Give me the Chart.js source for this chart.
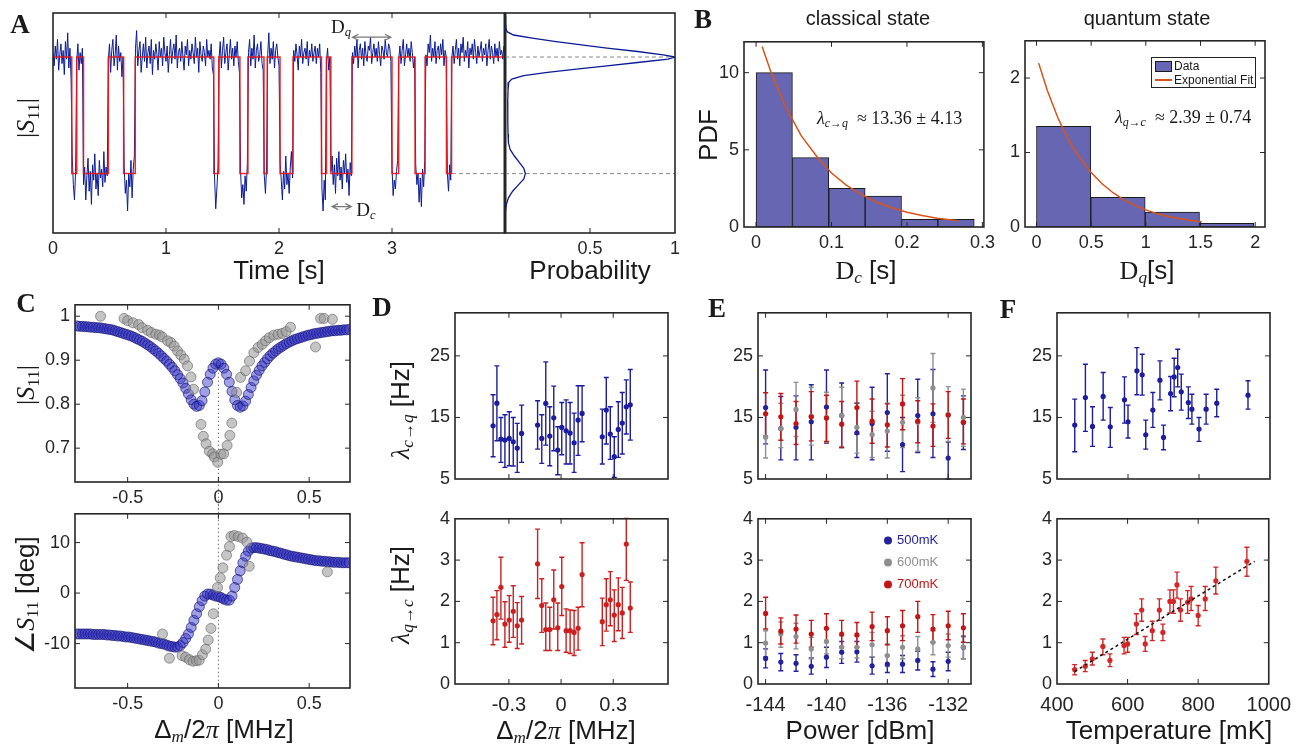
<!DOCTYPE html>
<html><head><meta charset="utf-8">
<script src="https://cdn.jsdelivr.net/npm/chart.js@4.4.1/dist/chart.umd.min.js"></script>
<style>
body{margin:0;width:1307px;height:745px;background:#fff;position:relative;overflow:hidden;font-family:'Liberation Sans',Arial,sans-serif;color:#1a1a1a}
canvas{position:absolute}
.t{position:absolute;white-space:nowrap;transform:translate(-50%,-50%);line-height:1}
.t.r{transform:translate(-50%,-50%) rotate(-90deg)}
.t.la{transform:translate(0,-50%)}
.pl{font-family:'Liberation Serif','DejaVu Serif',serif;font-weight:bold;font-size:27px}
.ax{font-size:26px}
.sv{font-family:'Liberation Serif','DejaVu Serif',serif}
sub{font-size:0.66em;vertical-align:-0.28em;line-height:0}
.lg{position:absolute;left:1151px;top:57px;width:103px;height:29px;border:1.5px solid #222;background:#fff;font-size:12px;white-space:nowrap;line-height:14px}
.lg div{position:absolute;left:22px}
.el{position:absolute;font-size:13px;transform:translate(0,-50%);white-space:nowrap}
.el span{display:inline-block;width:8px;height:8px;border-radius:50%;margin-right:5px;vertical-align:-1px}
</style></head><body>
<script>
// ---------------- DATA ----------------
// Panel A: telegraph trace (|S11|, arb. units), sampled every 10 ms
const traceDt = 0.01;
const traceA = [82,76,85,79,88,74,81,86,77,83,72,87,79,91,75,84,70,
35,22,15,28,
78,86,74,82,77,84,
22,30,15,26,34,19,28,13,31,24,36,20,27,17,33,25,29,21,37,23,30,26,
79,86,73,83,88,76,81,90,74,85,78,82,71,80,
30,18,24,10,27,21,33,16,29,35,
84,92,76,83,87,73,80,86,78,89,75,82,85,77,88,72,83,79,86,81,74,87,80,84,76,89,82,78,85,73,81,88,77,83,86,79,90,75,82,84,78,87,80,74,85,81,88,76,83,79,86,82,77,89,80,84,73,87,81,78,85,82,76,88,80,83,79,86,75,72,
25,11,20,30,
80,87,75,83,89,77,82,86,74,81,88,79,84,76,85,80,87,78,73,
28,16,22,13,26,19,32,
82,88,76,84,79,90,75,83,86,78,81,87,77,74,
26,18,30,
81,91,77,84,79,87,75,83,86,80,76,
32,24,15,28,20,35,22,27,18,30,37,25,
83,78,86,81,74,85,80,88,77,82,84,79,87,76,83,80,86,78,82,85,77,84,80,86,73,
20,10,24,15,
78,84,74,80,
28,35,22,31,18,34,26,37,24,30,20,33,27,36,23,29,17,32,26,
82,77,85,80,88,75,83,86,79,84,76,87,81,78,85,83,89,77,82,86,80,84,78,87,81,76,85,83,79,88,82,80,86,84,78,
30,17,24,20,28,33,
79,85,77,83,88,76,81,86,80,84,78,87,82,75,80,
31,22,27,14,25,12,29,21,33,
81,76,86,82,90,78,84,80,87,77,83,85,79,86,81,88,76,83,80,
27,19,31,24,
80,85,77,83,88,79,84,76,86,82,89,78,83,80,87,75,84,81,86,79,88,82,77,85,80,83,87,78,84,81,86,76,83,88,79,85,82,77,86,80,84,78,87,81,83,79,85];
const stepTimes = [0,0.166,0.21,0.27,0.49,0.625,0.728,1.423,1.467,1.654,1.725,1.867,1.896,2.009,2.124,2.376,2.42,2.459,2.645,3.0,3.059,3.204,3.293,3.482,3.527,4.0];
const stepLevels = [80,27,80,27,80,27,80,27,80,27,80,27,80,27,80,27,80,27,80,27,80,27,80,27,80];
const levelHigh = 80, levelLow = 27;
const probLevel = [98.5,95,93,91.5,90,88.5,87,85.5,84,82.5,81,80,79,77.5,76,74.5,73,71.5,70,68.5,65,60,55,50,45,41,38,35,32,29.5,27,24.5,22,19,16,13,10,6.5];
const probValue = [0,0.003,0.006,0.012,0.05,0.17,0.3,0.45,0.6,0.78,0.93,1.0,0.96,0.78,0.6,0.42,0.25,0.11,0.04,0.022,0.018,0.016,0.016,0.017,0.018,0.02,0.03,0.055,0.085,0.11,0.12,0.11,0.08,0.045,0.02,0.008,0.003,0];

// Panel B: histograms + exponential fits
const bClassCenters = [0.0241,0.0723,0.1205,0.1687,0.2169,0.2651];
const bClassPdf = [10,4.5,2.5,2.0,0.5,0.5];
const bClassFitX = [0.008,0.02,0.04,0.06,0.08,0.1,0.12,0.14,0.16,0.18,0.2,0.22,0.24,0.268];
const bClassFitY = [11.7,10.0,7.7,5.9,4.6,3.5,2.7,2.1,1.6,1.25,0.96,0.74,0.57,0.4];
const bQuantCenters = [0.2485,0.7455,1.2425,1.7395];
const bQuantPdf = [1.35,0.4,0.2,0.05];
const bQuantFitX = [0.02,0.1,0.2,0.3,0.4,0.5,0.6,0.7,0.8,0.9,1.0,1.1,1.2,1.3,1.4,1.51];
const bQuantFitY = [2.2,1.83,1.45,1.15,0.92,0.73,0.58,0.46,0.365,0.29,0.23,0.18,0.145,0.115,0.092,0.071];

// Panel C: |S11| and phase vs detuning
const cDet = [-0.78,-0.765,-0.75,-0.735,-0.72,-0.705,-0.69,-0.675,-0.66,-0.645,-0.63,-0.615,-0.6,-0.585,-0.57,-0.555,-0.54,-0.525,-0.51,-0.495,-0.48,-0.465,-0.45,-0.435,-0.42,-0.405,-0.39,-0.375,-0.36,-0.345,-0.33,-0.315,-0.3,-0.285,-0.27,-0.255,-0.24,-0.225,-0.21,-0.195,-0.18,-0.165,-0.15,-0.135,-0.12,-0.105,-0.09,-0.075,-0.06,-0.045,-0.03,-0.015,0,0.015,0.03,0.045,0.06,0.075,0.09,0.105,0.12,0.135,0.15,0.165,0.18,0.195,0.21,0.225,0.24,0.255,0.27,0.285,0.3,0.315,0.33,0.345,0.36,0.375,0.39,0.405,0.42,0.435,0.45,0.465,0.48,0.495,0.51,0.525,0.54,0.555,0.57,0.585,0.6,0.615,0.63,0.645,0.66,0.675,0.69,0.705,0.72];
const cBlueMag = [0.978,0.977,0.977,0.976,0.976,0.975,0.975,0.974,0.974,0.973,
0.972,0.971,0.97,0.969,0.967,0.965,0.963,0.961,0.959,0.957,
0.955,0.952,0.949,0.946,0.943,0.939,0.935,0.931,0.926,0.921,
0.916,0.91,0.904,0.898,0.891,0.884,0.876,0.867,0.858,0.848,
0.836,0.823,0.81,0.8,0.795,0.797,0.808,0.828,0.85,0.868,
0.882,0.891,0.894,0.891,0.882,0.868,0.85,0.829,0.81,0.797,
0.793,0.796,0.807,0.822,0.838,0.853,0.866,0.877,0.887,0.895,
0.903,0.91,0.916,0.921,0.926,0.93,0.934,0.938,0.941,0.944,
0.947,0.949,0.951,0.953,0.955,0.957,0.958,0.96,0.961,0.962,
0.963,0.964,0.965,0.966,0.967,0.967,0.968,0.968,0.969,0.969,0.97];
const cBluePhase = [-8.1,-8.1,-8.1,-8.1,-8.1,-8.1,-8.2,-8.2,-8.2,-8.2,
-8.2,-8.3,-8.3,-8.4,-8.4,-8.5,-8.5,-8.6,-8.7,-8.7,
-8.8,-8.9,-9.0,-9.1,-9.2,-9.3,-9.4,-9.5,-9.6,-9.7,
-9.9,-10.0,-10.1,-10.3,-10.5,-10.6,-10.7,-10.7,-10.4,-9.8,
-9.0,-8.1,-6.8,-5.4,-4.1,-2.7,-1.5,-0.6,-0.2,-0.2,
-0.4,-0.6,-0.7,-0.9,-1.2,-1.4,-1.4,-0.6,1.1,2.7,
4.4,6.0,7.3,8.3,8.9,9.0,9.0,8.9,8.8,8.7,
8.6,8.4,8.3,8.2,8.0,7.9,7.7,7.6,7.4,7.3,
7.2,7.1,7.0,6.9,6.8,6.7,6.6,6.5,6.4,6.4,
6.3,6.3,6.2,6.2,6.1,6.1,6.1,6.0,6.0,6.0,6.0];
const cGrayMagX = [-0.649,-0.52,-0.5,-0.47,-0.44,-0.42,-0.39,-0.37,-0.345,-0.325,-0.31,-0.28,-0.262,-0.244,-0.225,-0.207,-0.188,-0.17,-0.151,-0.137,-0.096,-0.083,-0.068,-0.05,-0.032,-0.023,-0.004,0.014,0.029,0.048,0.063,0.074,0.1,0.122,0.15,0.171,0.195,0.219,0.241,0.26,0.28,0.305,0.329,0.351,0.373,0.397,0.535,0.563,0.582,0.628];
const cGrayMagY = [1.0,0.995,0.99,0.985,0.981,0.974,0.968,0.963,0.959,0.957,0.953,0.944,0.94,0.932,0.921,0.912,0.902,0.887,0.862,0.834,0.754,0.727,0.71,0.693,0.687,0.68,0.668,0.686,0.687,0.706,0.729,0.757,0.827,0.861,0.876,0.898,0.917,0.929,0.936,0.944,0.951,0.957,0.959,0.961,0.965,0.975,0.93,0.995,0.995,0.993];
const cGrayPhX = [-0.308,-0.27,-0.2,-0.18,-0.16,-0.14,-0.122,-0.106,-0.088,-0.07,-0.056,-0.041,-0.028,-0.005,0.01,0.025,0.045,0.061,0.069,0.087,0.109,0.133,0.157,0.17,0.6];
const cGrayPhY = [-8.1,-12.9,-12.4,-12.7,-13.2,-13.5,-13.4,-13.3,-12.2,-11.1,-9.3,-7.0,-4.1,1.1,3.0,5.0,7.5,9.2,11.2,11.4,11.2,10.9,10.1,5.3,4.2];

// Panel D: rates vs detuning
const dDet = [-0.391,-0.369,-0.346,-0.323,-0.298,-0.275,-0.252,-0.227,-0.135,-0.111,-0.088,-0.065,-0.042,-0.019,0.004,0.029,0.052,0.075,0.098,0.121,0.237,0.26,0.283,0.306,0.329,0.352,0.375,0.398];
const dCQ = [13.65,17.32,11.49,11.32,11.59,11.05,10.03,12.41,13.76,11.59,17.27,11.97,14.95,9.7,13.38,12.84,12.46,10.89,14.57,15.65,11.86,16.19,12.3,8.62,13.05,14.08,16.73,17.05];
const dCQHi = [18.68,23.38,15.0,15.43,15.92,15.0,14.03,17.0,17.7,15.43,24.03,16.73,20.08,13.49,17.43,17.86,17.43,15.7,20.14,20.14,16.35,21.49,16.73,11.86,17.54,19.05,21.1,22.78];
const dCQLo = [8.62,11.22,7.7,6.89,7.16,7.11,6.08,7.7,9.86,7.54,10.51,7.16,9.59,5.7,8.95,7.43,7.43,6.08,8.84,11.05,7.43,10.68,8.19,5.27,8.51,9.05,12.3,11.32];
const dQC = [1.53,1.68,2.34,1.45,1.55,1.76,1.41,1.55,2.91,1.9,1.32,1.32,2.04,1.36,2.36,1.29,1.29,1.25,1.35,2.65,1.51,1.92,2.04,1.67,1.92,1.72,3.39,1.84];
const dQCHi = [2.1,2.26,3.07,1.99,2.14,2.38,1.97,2.12,3.75,2.55,1.96,1.86,2.76,1.96,3.07,1.82,1.79,1.78,1.86,3.42,2.08,2.55,2.72,2.28,2.57,2.34,4.03,2.47];
const dQCLo = [0.95,1.07,1.57,0.89,1.01,1.13,0.86,0.97,2.07,1.25,0.81,0.81,1.33,0.81,1.66,0.77,0.74,0.69,0.82,1.87,0.93,1.28,1.41,1.03,1.29,1.1,2.51,1.25];

// Panel E: rates vs power at three temperatures
const ePower = [-144,-143,-142,-141,-140,-139,-138,-137,-136,-135,-134,-133,-132,-131];
const e500CQ = [16.6,13.2,13.4,14.3,16.7,15.3,12.5,14.0,15.8,10.6,15.3,15.6,8.4,14.2];
const e500CQHi = [22.7,18.4,18.5,20.3,22.7,20.6,17.3,19.9,22.1,15.0,21.2,22.8,11.0,18.5];
const e500CQLo = [10.7,8.1,8.1,8.1,10.8,10.1,8.5,8.1,9.5,6.2,9.3,8.5,5.0,9.8];
const e600CQ = [11.8,13.2,16.3,15.2,15.0,15.3,13.4,12.2,12.8,14.2,14.2,19.8,15.5,15.0];
const e600CQHi = [15.6,17.3,20.7,19.9,19.1,19.9,17.4,16.0,17.3,18.6,18.2,25.4,20.0,19.6];
const e600CQLo = [8.4,10.1,11.9,10.5,10.9,10.3,9.2,8.5,8.4,10.1,9.5,14.2,11.1,10.3];
const e700CQ = [15.6,15.1,14.0,15.1,14.9,13.9,16.6,14.4,13.8,17.2,14.4,13.6,15.4,14.2];
const e700CQHi = [19.0,18.9,17.6,19.2,18.6,17.6,20.9,18.0,17.2,21.3,17.7,17.2,19.2,18.0];
const e700CQLo = [12.0,11.3,10.6,11.2,11.1,10.1,12.3,10.8,10.2,13.0,10.9,10.3,11.6,10.7];
const e500QC = [0.62,0.53,0.5,0.43,0.65,0.77,0.78,0.44,0.48,0.48,0.57,0.36,0.55,0.89];
const e500QCHi = [0.85,0.74,0.71,0.63,0.89,1.03,1.03,0.65,0.69,0.69,0.79,0.54,0.77,1.15];
const e500QCLo = [0.39,0.32,0.31,0.24,0.4,0.5,0.53,0.24,0.28,0.28,0.34,0.18,0.32,0.61];
const e600QC = [0.99,1.21,1.15,0.85,1.03,0.89,0.89,0.95,0.69,0.89,0.85,1.01,0.93,0.89];
const e600QCHi = [1.29,1.5,1.47,1.13,1.33,1.17,1.15,1.25,0.97,1.17,1.15,1.29,1.21,1.17];
const e600QCLo = [0.66,0.89,0.85,0.61,0.73,0.61,0.63,0.66,0.42,0.61,0.57,0.71,0.65,0.61];
const e700QC = [1.71,1.28,1.33,1.21,1.35,1.21,1.19,1.39,1.29,1.41,1.63,1.33,1.41,1.36];
const e700QCHi = [2.1,1.6,1.67,1.54,1.7,1.54,1.49,1.74,1.63,1.78,2.0,1.68,1.76,1.7];
const e700QCLo = [1.33,0.97,0.99,0.89,1.01,0.91,0.89,1.05,0.95,1.05,1.25,1.01,1.07,1.01];
const eSeriesNames = ['500mK','600mK','700mK'];

// Panel F: rates vs temperature
const fTemp = [450,480,500,530,550,590,600,625,640,650,670,690,700,720,730,740,750,770,780,800,820,850,938];
const fCQ = [13.76,18.24,13.54,18.41,13.49,17.86,14.3,22.57,21.92,12.19,16.19,21.05,11.76,18.89,21.59,23.11,19.16,17.43,16.35,13.11,16.35,17.32,18.62];
const fCQHi = [17.97,23.65,16.73,22.3,16.62,21.59,17.0,26.35,25.27,14.57,19.05,24.19,13.76,21.65,24.62,26.08,22.03,19.97,18.78,15.0,18.78,19.59,20.95];
const fCQLo = [9.43,12.73,10.3,14.57,10.14,14.08,11.65,18.68,18.62,9.86,13.38,17.86,9.76,16.08,18.35,19.97,16.19,14.84,13.92,11.11,13.92,15.11,16.35];
const fQC = [0.35,0.43,0.61,0.91,0.57,0.93,0.97,1.45,1.79,0.97,1.29,1.79,1.25,2.0,2.0,2.4,1.79,1.98,2.06,1.66,2.06,2.5,2.97];
const fQCHi = [0.47,0.57,0.77,1.09,0.73,1.13,1.13,1.7,2.06,1.15,1.52,2.06,1.45,2.28,2.28,2.71,2.06,2.26,2.36,1.9,2.36,2.83,3.31];
const fQCLo = [0.22,0.3,0.46,0.71,0.42,0.73,0.77,1.2,1.52,0.79,1.05,1.54,1.05,1.72,1.71,2.08,1.52,1.71,1.78,1.41,1.78,2.18,2.61];
const fFitT = [450,960];
const fFitRate = [0.3,2.97];

// Tick values / labels
const tA = [0,1,2,3], tAl = ['0','1','2','3'];
const tP = [0.5,1], tPl = ['0.5','1'];
const tB1x = [0,0.1,0.2,0.3], tB1xl = ['0','0.1','0.2','0.3'];
const tB1y = [0,5,10], tB1yl = ['0','5','10'];
const tB2x = [0,0.5,1,1.5,2], tB2xl = ['0','0.5','1','1.5','2'];
const tB2y = [0,1,2], tB2yl = ['0','1','2'];
const tCx = [-0.5,0,0.5], tCxl = ['-0.5','0','0.5'];
const tC1y = [0.7,0.8,0.9,1], tC1yl = ['0.7','0.8','0.9','1'];
const tC2y = [-10,0,10], tC2yl = ['-10','0','10'];
const tDx = [-0.3,0,0.3], tDxl = ['-0.3','0','0.3'];
const tEx = [-144,-140,-136,-132], tExl = ['-144','-140','-136','-132'];
const tFx = [400,600,800,1000], tFxl = ['400','600','800','1000'];
const tTopY = [5,15,25], tTopYl = ['5','15','25'];
const tBotY = [0,1,2,3,4], tBotYl = ['0','1','2','3','4'];

// ---------------- RENDERING ----------------
const BLUE = '#1c1c9c', RED = '#cc1f1f', GRAY = '#969696', TRACE = '#0b1b96';
Chart.defaults.font.family = "'Liberation Sans', Arial, sans-serif";
Chart.defaults.font.size = 18;
Chart.defaults.color = '#262626';

Chart.register({
  id: 'frame',
  beforeDatasetsDraw(chart) {
    const ctx = chart.ctx, a = chart.chartArea, xs = chart.scales.x, ys = chart.scales.y;
    ctx.save();
    ctx.beginPath(); ctx.rect(a.left, a.top - 1, a.right - a.left, a.bottom - a.top + 2); ctx.clip();
    const dss = chart.data.datasets;
    for (let di = dss.length - 1; di >= 0; di--) {
      const ds = dss[di];
      if (!ds.errLo) continue;
      ctx.strokeStyle = ds.borderColor; ctx.lineWidth = 1.4;
      ds.data.forEach((p, i) => {
        const x = xs.getPixelForValue(p.x);
        const y1 = ys.getPixelForValue(ds.errLo[i]), y2 = ys.getPixelForValue(ds.errHi[i]);
        ctx.beginPath();
        ctx.moveTo(x, y1); ctx.lineTo(x, y2);
        ctx.moveTo(x - 2.5, y1); ctx.lineTo(x + 2.5, y1);
        ctx.moveTo(x - 2.5, y2); ctx.lineTo(x + 2.5, y2);
        ctx.stroke();
      });
    }
    ctx.restore();
  },
  afterDraw(chart) {
    const o = chart.options.plugins.frame || {};
    const ctx = chart.ctx, a = chart.chartArea, xs = chart.scales.x, ys = chart.scales.y;
    ctx.save();
    ctx.strokeStyle = '#262626'; ctx.lineWidth = 1;
    const L = 5;
    if (o.tx !== false) xs.ticks.forEach(t => {
      const x = xs.getPixelForValue(t.value);
      if (x <= a.left + 1 || x >= a.right - 1) return;
      ctx.beginPath(); ctx.moveTo(x, a.bottom); ctx.lineTo(x, a.bottom - L);
      ctx.moveTo(x, a.top); ctx.lineTo(x, a.top + L); ctx.stroke();
    });
    if (o.ty !== false) ys.ticks.forEach(t => {
      const y = ys.getPixelForValue(t.value);
      if (y <= a.top + 1 || y >= a.bottom - 1) return;
      ctx.beginPath(); ctx.moveTo(a.left, y); ctx.lineTo(a.left + L, y);
      ctx.moveTo(a.right, y); ctx.lineTo(a.right - L, y); ctx.stroke();
    });
    ctx.lineWidth = 1.6;
    ctx.strokeRect(a.left, a.top, a.right - a.left, a.bottom - a.top);
    if (o.thickRight) { ctx.lineWidth = 3; ctx.beginPath(); ctx.moveTo(a.right, a.top); ctx.lineTo(a.right, a.bottom); ctx.stroke(); }
    (o.arrows || []).forEach(ar => {
      const x1 = xs.getPixelForValue(ar.x1), x2 = xs.getPixelForValue(ar.x2), y = ys.getPixelForValue(ar.y);
      ctx.strokeStyle = '#777'; ctx.lineWidth = 1.2;
      ctx.beginPath(); ctx.moveTo(x1, y); ctx.lineTo(x2, y);
      ctx.moveTo(x1 + 6, y - 3); ctx.lineTo(x1, y); ctx.lineTo(x1 + 6, y + 3);
      ctx.moveTo(x2 - 6, y - 3); ctx.lineTo(x2, y); ctx.lineTo(x2 - 6, y + 3);
      ctx.stroke();
    });
    ctx.restore();
  }
});

function axis(min, max, ticks, labels, o = {}) {
  return {
    type: 'linear', min, max, offset: false,
    grid: { display: false, drawTicks: false, offset: false },
    border: { display: false },
    ticks: { display: !!labels, autoSkip: false, maxRotation: 0, minRotation: 0,
      padding: o.pad ?? 5, font: { size: o.fs ?? 18 },
      callback: (v, i) => labels ? labels[i] : '' },
    afterBuildTicks: s => { s.ticks = ticks.map(v => ({ value: v })); }
  };
}

function mk(box, pad, type, datasets, xs, ys, frame) {
  const [l, t, r, b] = box;
  const W = r - l + pad[0] + pad[2], H = b - t + pad[1] + pad[3];
  const c = document.createElement('canvas');
  c.width = W; c.height = H;
  c.style.left = (l - pad[0]) + 'px'; c.style.top = (t - pad[1]) + 'px';
  c.style.width = W + 'px'; c.style.height = H + 'px';
  document.body.appendChild(c);
  xs.afterFit = s => { s.height = pad[3]; };
  ys.afterFit = s => { s.width = pad[0]; };
  return new Chart(c, {
    type, data: { datasets },
    options: {
      responsive: false, maintainAspectRatio: false, devicePixelRatio: 1, animation: false,
      layout: { padding: { left: 0, top: pad[1], right: pad[2], bottom: 0 } },
      scales: { x: xs, y: ys },
      plugins: { legend: { display: false }, tooltip: { enabled: false }, frame: frame || {} }
    }
  });
}

const pts = (xs, ys) => xs.map((x, i) => ({ x, y: ys[i] }));
const line = (data, color, w, extra = {}) => Object.assign({ data, showLine: true, borderColor: color, borderWidth: w, pointRadius: 0, fill: false, tension: 0 }, extra);
const err = (xs, ys, lo, hi, color, r = 2.6) => ({ data: pts(xs, ys), errLo: lo, errHi: hi, borderColor: color, backgroundColor: color, pointRadius: r, pointBorderWidth: 0, showLine: false });

// ---- Panel A ----
const stepPts = [];
stepLevels.forEach((lv, k) => { stepPts.push({ x: stepTimes[k], y: lv }, { x: stepTimes[k + 1], y: lv }); });
const tracePts = traceA.map((v, i) => ({ x: i * traceDt, y: v }));
mk([53, 13, 505, 233], [40, 14, 4, 36], 'scatter', [
  line(stepPts, 'rgba(232,20,20,0.9)', 1.5),
  line(tracePts, TRACE, 1),
  line([{ x: 3.53, y: levelLow }, { x: 4, y: levelLow }], '#8a8a8a', 1, { borderDash: [4, 3] })
], axis(0, 4, tA, tAl), axis(0, 100, [], null), { ty: false, thickRight: true,
  arrows: [{ x1: 2.65, x2: 2.99, y: 89 }, { x1: 2.47, x2: 2.64, y: 12 }] });

mk([505, 13, 675, 233], [4, 14, 12, 36], 'scatter', [
  line(pts(probValue, probLevel), TRACE, 1.3),
  line([{ x: 0, y: levelHigh }, { x: 1, y: levelHigh }], '#8a8a8a', 1, { borderDash: [4, 3] }),
  line([{ x: 0, y: levelLow }, { x: 1, y: levelLow }], '#8a8a8a', 1, { borderDash: [4, 3] })
], axis(0, 1, tP, tPl), axis(0, 100, [], null), { ty: false });

// ---- Panel B ----
const barDs = (c, v) => ({ type: 'bar', data: pts(c, v), backgroundColor: '#6666b3', borderColor: '#1a1a1a', borderWidth: 1, borderSkipped: false, categoryPercentage: 1, barPercentage: 1 });
mk([744, 40, 984, 227], [50, 14, 16, 36], 'bar', [
  Object.assign(line(pts(bClassFitX, bClassFitY), '#d95319', 1.5), { type: 'line' }),
  barDs(bClassCenters, bClassPdf)
], axis(-0.016, 0.302, tB1x, tB1xl), axis(0, 12, tB1y, tB1yl));

mk([1025, 39, 1265, 227], [40, 14, 16, 36], 'bar', [
  Object.assign(line(pts(bQuantFitX, bQuantFitY), '#d95319', 1.5), { type: 'line' }),
  barDs(bQuantCenters, bQuantPdf)
], axis(-0.105, 2.09, tB2x, tB2xl), axis(0, 2.5, tB2y, tB2yl));

// ---- Panel C ----
const dotsC = (x, y, fill, edge) => ({ data: pts(x, y), backgroundColor: fill, borderColor: edge, borderWidth: 1, pointRadius: 5, showLine: false });
mk([75, 303, 350, 482], [52, 14, 12, 34], 'scatter', [
  dotsC(cGrayMagX, cGrayMagY, 'rgba(150,150,150,0.55)', 'rgba(95,95,95,0.6)'),
  dotsC(cDet, cBlueMag, 'rgba(45,45,195,0.45)', 'rgba(20,20,120,0.65)'),
  line([{ x: 0, y: 0.89 }, { x: 0, y: 0.55 }], '#777', 1, { borderDash: [1.5, 2.5], clip: false })
], axis(-0.79, 0.725, tCx, tCxl), axis(0.623, 1.026, tC1y, tC1yl));

mk([75, 512, 350, 688], [52, 14, 12, 34], 'scatter', [
  dotsC(cGrayPhX, cGrayPhY, 'rgba(150,150,150,0.55)', 'rgba(95,95,95,0.6)'),
  dotsC(cDet, cBluePhase, 'rgba(45,45,195,0.45)', 'rgba(20,20,120,0.65)'),
  line([{ x: 0, y: 18.5 }, { x: 0, y: -18.8 }], '#777', 1, { borderDash: [1.5, 2.5], clip: false })
], axis(-0.79, 0.725, tCx, tCxl), axis(-18.8, 15.7, tC2y, tC2yl));

// ---- Panel D ----
mk([455, 311, 668, 479], [40, 14, 12, 30], 'scatter', [
  err(dDet, dCQ, dCQLo, dCQHi, BLUE)
], axis(-0.61, 0.615, tDx, null), axis(5, 32, tTopY, tTopYl));
mk([455, 517, 668, 684], [40, 14, 12, 40], 'scatter', [
  err(dDet, dQC, dQCLo, dQCHi, RED)
], axis(-0.61, 0.615, tDx, tDxl, { pad: 9, fs: 20 }), axis(0, 4, tBotY, tBotYl));

// ---- Panel E ----
const E_BLUE = '#22229c', E_GRAY = '#8f8f8f', E_RED = '#c41414';
mk([758, 311, 971, 479], [40, 14, 12, 30], 'scatter', [
  err(ePower, e700CQ, e700CQLo, e700CQHi, E_RED),
  err(ePower, e600CQ, e600CQLo, e600CQHi, E_GRAY),
  err(ePower, e500CQ, e500CQLo, e500CQHi, E_BLUE)
], axis(-144.5, -130.5, tEx, null), axis(5, 32, tTopY, tTopYl));
mk([758, 517, 971, 684], [40, 14, 20, 40], 'scatter', [
  err(ePower, e700QC, e700QCLo, e700QCHi, E_RED),
  err(ePower, e600QC, e600QCLo, e600QCHi, E_GRAY),
  err(ePower, e500QC, e500QCLo, e500QCHi, E_BLUE)
], axis(-144.5, -130.5, tEx, tExl, { pad: 9, fs: 20 }), axis(0, 4, tBotY, tBotYl));

// ---- Panel F ----
mk([1057, 311, 1270, 479], [40, 14, 12, 30], 'scatter', [
  err(fTemp, fCQ, fCQLo, fCQHi, BLUE)
], axis(400, 1000, tFx, null), axis(5, 32, tTopY, tTopYl));
mk([1057, 517, 1270, 684], [40, 14, 30, 40], 'scatter', [
  line(pts(fFitT, fFitRate), '#111', 1.5, { borderDash: [3, 3] }),
  err(fTemp, fQC, fQCLo, fQCHi, '#d42626')
], axis(400, 1000, tFx, tFxl, { pad: 9, fs: 20 }), axis(0, 4, tBotY, tBotYl));

// ---------------- TEXT ----------------
function lab(html, x, y, cls, style) {
  const d = document.createElement('div');
  d.className = 't ' + (cls || '');
  d.innerHTML = html;
  d.style.left = x + 'px'; d.style.top = y + 'px';
  if (style) d.style.cssText += style;
  document.body.appendChild(d);
}
const SUBI = s => '<sub class="sv"><i>' + s + '</i></sub>';
lab('A', 20, 24, 'pl');
lab('|<i>S</i><sub>11</sub>|', 26, 118, 'ax r sv');
lab('Time [s]', 279, 270, 'ax');
lab('Probability', 590, 270, 'ax');
lab('D' + SUBI('q'), 341, 26, 'sv', 'font-size:19px');
lab('D' + SUBI('c'), 366, 209, 'sv', 'font-size:19px');

lab('B', 703, 19, 'pl');
lab('classical state', 868, 18, '', 'font-size:20px');
lab('quantum state', 1147, 18, '', 'font-size:20px');
lab('PDF', 708, 135, 'ax r');
lab('<i>λ</i><sub><i>c</i>→<i>q</i></sub>&nbsp; ≈ 13.36 ± 4.13', 817, 118, 'sv la', 'font-size:18px');
lab('<i>λ</i><sub><i>q</i>→<i>c</i></sub>&nbsp; ≈ 2.39 ± 0.74', 1115, 117, 'sv la', 'font-size:18px');
lab('<span class="sv">D</span>' + SUBI('c') + ' [s]', 866, 270, 'ax');
lab('<span class="sv">D</span>' + SUBI('q') + '[s]', 1147, 270, 'ax');

lab('C', 26, 303, 'pl');
lab('|<i>S</i><sub>11</sub>|', 26, 385, 'ax r sv');
lab('∠<i class="sv">S</i><sub class="sv">11</sub> [deg]', 25, 595, 'ax r');
lab('Δ' + SUBI('m') + '/2<i class="sv">π</i> [MHz]', 224, 729, 'ax');

lab('D', 382, 307, 'pl');
lab('<i class="sv">λ</i><sub class="sv"><i>c</i>→<i>q</i></sub> [Hz]', 400, 410, 'ax r');
lab('<i class="sv">λ</i><sub class="sv"><i>q</i>→<i>c</i></sub> [Hz]', 400, 595, 'ax r');
lab('Δ' + SUBI('m') + '/2<i class="sv">π</i> [MHz]', 566, 730, 'ax');

lab('E', 717, 308, 'pl');
lab('Power [dBm]', 860, 730, 'ax');
lab('F', 1008, 309, 'pl');
lab('Temperature [mK]', 1169, 730, 'ax');

// legend B
const lg = document.createElement('div');
lg.className = 'lg';
lg.innerHTML = '<span style="position:absolute;left:3px;top:3px;width:15px;height:9px;background:#6666b3;border:1px solid #1a1a1a"></span><div style="top:1px">Data</div>' +
  '<span style="position:absolute;left:3px;top:21px;width:17px;height:1.5px;background:#d95319"></span><div style="top:15px">Exponential Fit</div>';
document.body.appendChild(lg);
// legend E
[[E_BLUE, 539], [E_GRAY, 561], [E_RED, 583]].forEach((c, i) => {
  const d = document.createElement('div');
  d.className = 'el';
  d.style.left = '884px'; d.style.top = c[1] + 'px'; d.style.color = c[0];
  d.innerHTML = '<span style="background:' + c[0] + '"></span>' + eSeriesNames[i];
  document.body.appendChild(d);
});
</script>
</body></html>
